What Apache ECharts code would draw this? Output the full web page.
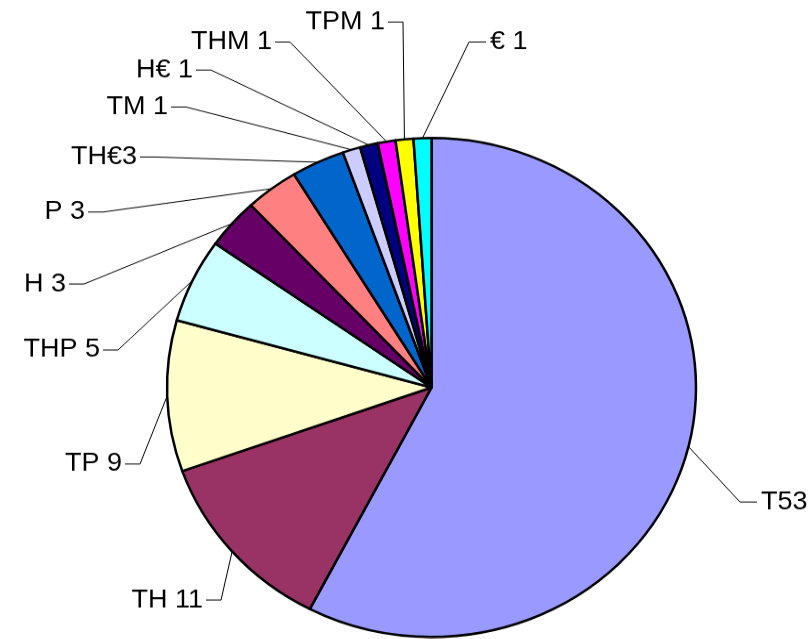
<!DOCTYPE html>
<html>
<head>
<meta charset="utf-8">
<script src="https://cdn.jsdelivr.net/npm/echarts@6/dist/echarts.min.js"></script>
<style>
  html, body { margin: 0; padding: 0; background: #fff; overflow: hidden; }
  #pie { width: 812px; height: 677px; transform: scaleY(0.9433); transform-origin: 0 0; }
</style>
</head>
<body>
<div id="pie"></div>
<script>
const names = ['T', 'TH', 'TP', 'THP', 'H', 'P', 'TH€', 'TM', 'H€', 'THM', 'TPM', '€']
const values = [53, 11, 9, 5, 3, 3, 3, 1, 1, 1, 1, 1]
const colors = ['#9999FF', '#993366', '#FFFFCC', '#CCFFFF', '#660066', '#FF8080',
  '#0066CC', '#CCCCFF', '#000080', '#FF00FF', '#FFFF00', '#00FFFF']
const tight = ['T', 'TH€'] // no space between name and number

// where each label sits on screen (text edge next to the leader line)
const labelAt = [[761, 502], [203, 600], [122, 464], [100, 350], [66, 284], [85, 212],
  [137, 157], [168, 107], [193, 70], [272, 42], [385, 22], [490, 42]]
const rightSide = [0, 11]

const sy = 0.9433 // the reference pie is a bit squashed vertically

const chartDom = document.getElementById('pie')
const myChart = echarts.init(chartDom)

const option = {
  animation: false,
  series: [
    {
      type: 'pie',
      center: [431.5, 387.5 / sy],
      radius: 264.5,
      startAngle: 90,
      clockwise: true,
      avoidLabelOverlap: false,
      data: names.map((n, i) => ({ name: n, value: values[i], itemStyle: { color: colors[i] } })),
      itemStyle: { borderColor: '#000', borderWidth: 2.5 },
      emphasis: { disabled: true },
      label: {
        show: true,
        position: 'outside',
        color: '#000',
        fontFamily: 'Liberation Sans, Arial, sans-serif',
        fontSize: 27,
        formatter: p => p.name + (tight.includes(p.name) ? '' : ' ') + p.value
      },
      labelLine: {
        show: true,
        lineStyle: { color: '#000', width: 1 }
      },
      labelLayout: params => {
        const i = params.dataIndex
        const right = rightSide.includes(i)
        const [tx, ty] = labelAt[i]
        const y = ty / sy
        const end = right ? tx - 4 : tx + 3
        const bend = right ? end - 17 : end + 15
        return {
          x: tx,
          y: y,
          align: right ? 'left' : 'right',
          verticalAlign: 'middle',
          labelLinePoints: [params.labelLinePoints[0], [bend, y], [end, y]]
        }
      }
    }
  ]
}
myChart.setOption(option)

window.addEventListener('resize', () => {
  myChart.resize()
})
</script>
</body>
</html>
